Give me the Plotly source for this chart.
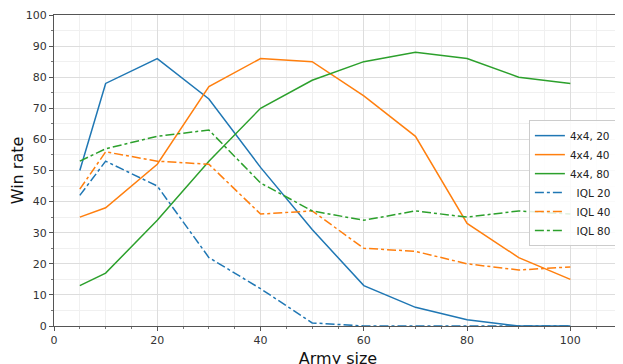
import plotly.graph_objects as go

army_size = [5, 10, 20, 30, 40, 50, 60, 70, 80, 90, 100]
s_4x4_20 = [50, 78, 86, 73, 51, 31, 13, 6, 2, 0, 0]
s_4x4_40 = [35, 38, 52, 77, 86, 85, 74, 61, 33, 22, 15]
s_4x4_80 = [13, 17, 34, 53, 70, 79, 85, 88, 86, 80, 78]
iql_20 = [42, 53, 45, 22, 12, 1, 0, 0, 0, 0, 0]
iql_40 = [44, 56, 53, 52, 36, 37, 25, 24, 20, 18, 19]
iql_80 = [53, 57, 61, 63, 46, 37, 34, 37, 35, 37, 36]

blue, orange, green = "#1f77b4", "#ff7f0e", "#2ca02c"
series = [
    ("4x4, 20", s_4x4_20, blue, "solid"),
    ("4x4, 40", s_4x4_40, orange, "solid"),
    ("4x4, 80", s_4x4_80, green, "solid"),
    ("  IQL 20", iql_20, blue, "dashdot"),
    ("  IQL 40", iql_40, orange, "dashdot"),
    ("  IQL 80", iql_80, green, "dashdot"),
]

fig = go.Figure()
for name, ys, col, dash in series:
    fig.add_trace(go.Scatter(x=army_size, y=ys, mode="lines", name=name,
                             line=dict(color=col, width=1.5, dash=dash)))

axis_common = dict(
    showline=True, linecolor="#555555", linewidth=1,
    ticks="outside", ticklen=4, tickcolor="#555555",
    tickfont=dict(family="DejaVu Sans", size=11, color="#333333"),
    showgrid=True, gridcolor="#dddddd", gridwidth=1,
    zeroline=False, automargin=False,
    minor=dict(showgrid=True, gridcolor="#f0f0f0", ticks="outside", ticklen=2, tickcolor="#777777"),
)

fig.update_layout(
    width=623, height=364,
    margin=dict(l=46, r=9, t=7, b=46),
    paper_bgcolor="white", plot_bgcolor="white",
    font=dict(family="DejaVu Sans", color="#222222"),
    xaxis=dict(range=[0, 110], dtick=20, tick0=0, mirror=True,
               title=dict(text="Army size", font=dict(size=16, color="#111111"), standoff=6),
               **axis_common),
    yaxis=dict(range=[0, 100], dtick=10, tick0=0,
               title=dict(text="Win rate", font=dict(size=16, color="#111111"), standoff=2),
               **axis_common),
    legend=dict(x=0.991, y=0.662, xanchor="right", yanchor="top",
                bgcolor="rgba(255,255,255,0.85)", bordercolor="#cccccc", borderwidth=1,
                font=dict(family="DejaVu Sans", size=10.5, color="#222222"),
                tracegroupgap=0, itemwidth=30),
)
fig.update_xaxes(minor=dict(dtick=5))
fig.update_yaxes(minor=dict(dtick=5))

fig.write_html("out.html")
